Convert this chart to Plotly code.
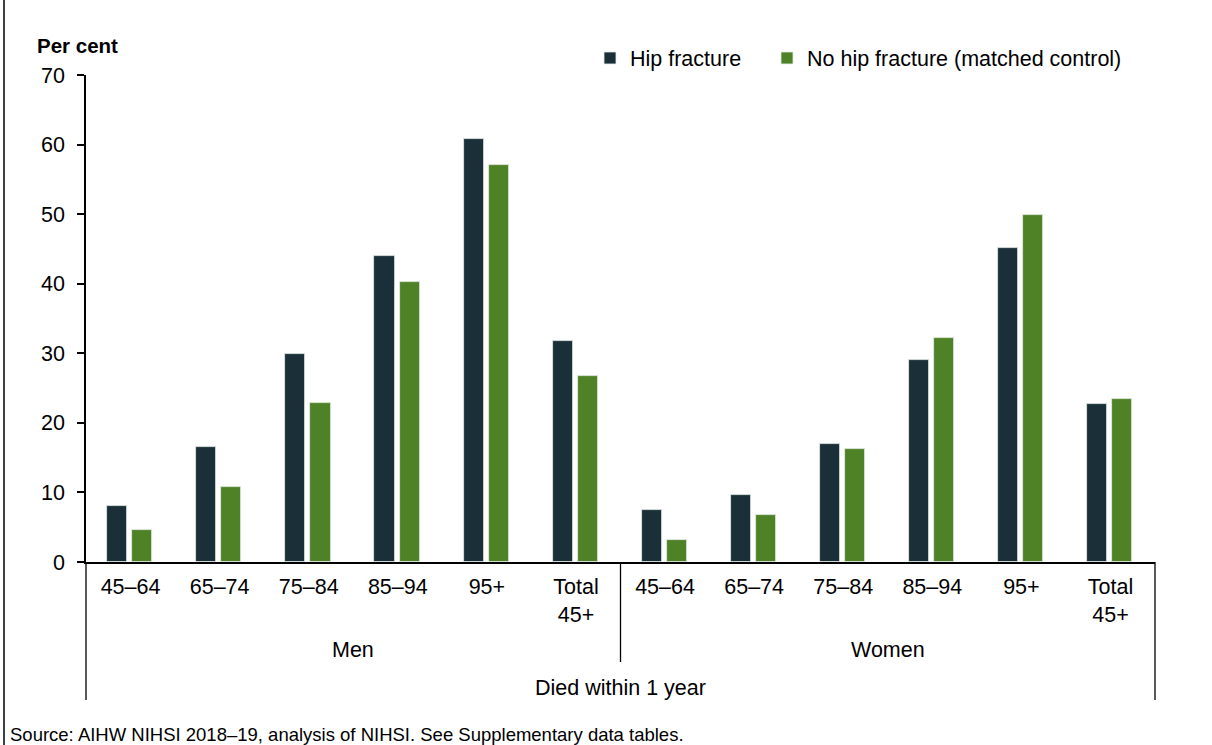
import plotly.graph_objects as go

categories = ["45–64", "65–74", "75–84", "85–94", "95+", "Total<br>45+",
              "45–64", "65–74", "75–84", "85–94", "95+", "Total<br>45+"]
groups = ["Men", "Women"]
hip_fracture = [8.1, 16.6, 29.9, 44.0, 60.8, 31.8,
                7.5, 9.6, 16.9, 29.1, 45.1, 22.7]
no_hip_fracture = [4.6, 10.8, 22.9, 40.2, 57.1, 26.7,
                   3.1, 6.7, 16.2, 32.2, 49.9, 23.5]
y_ticks = [0, 10, 20, 30, 40, 50, 60, 70]

DARK = "#1b2f38"
GREEN = "#4f8227"
FONT = "Liberation Sans, Arial, sans-serif"
FS = 21.5

x_pos = list(range(len(categories)))

fig = go.Figure()
fig.add_trace(go.Bar(
    x=x_pos, y=hip_fracture, name="Hip fracture",
    marker=dict(color=DARK, line=dict(color="#e6ebe8", width=0.8)),
    width=0.225, offset=-0.262, legend="legend",
))
fig.add_trace(go.Bar(
    x=x_pos, y=no_hip_fracture, name="No hip fracture (matched control)",
    marker=dict(color=GREEN, line=dict(color="#e6ebe8", width=0.8)),
    width=0.225, offset=0.02, legend="legend2",
))

W, H = 1212, 745
L, R, T, B = 86, 1155, 75, 562
ph = B - T


def py(pix):
    return (B - pix) / ph


def px(pix):
    return (pix - L) / (R - L)


shapes = []
line = dict(color="black", width=1.3)
for xp, yb in [(0, 700), (0.5, 662), (1, 700)]:
    shapes.append(dict(type="line", xref="paper", yref="paper",
                       x0=xp, x1=xp, y0=0, y1=py(yb), line=line))
# outer frame left edge
shapes.append(dict(type="line", xref="paper", yref="paper",
                   x0=px(4), x1=px(4), y0=py(745), y1=py(0),
                   line=dict(color="black", width=1.5)))

annotations = [
    dict(text=groups[0], x=0.25, y=py(650), xref="paper", yref="paper",
         xanchor="center", yanchor="middle", showarrow=False, font=dict(size=FS)),
    dict(text=groups[1], x=0.75, y=py(650), xref="paper", yref="paper",
         xanchor="center", yanchor="middle", showarrow=False, font=dict(size=FS)),
    dict(text="Died within 1 year", x=0.5, y=py(688), xref="paper", yref="paper",
         xanchor="center", yanchor="middle", showarrow=False, font=dict(size=FS)),
    dict(text="<b>Per cent</b>", x=px(35), y=py(45), xref="paper", yref="paper",
         xanchor="left", yanchor="middle", showarrow=False, font=dict(size=20.5)),
    dict(text="Source: AIHW NIHSI 2018–19, analysis of NIHSI. See Supplementary data tables.",
         x=px(8), y=py(747), xref="paper", yref="paper",
         xanchor="left", yanchor="bottom", showarrow=False, font=dict(size=18.5)),
]

leg_common = dict(orientation="h", xanchor="left", yanchor="middle",
                  font=dict(size=FS), itemwidth=30, bgcolor="rgba(0,0,0,0)")

fig.update_layout(
    width=W, height=H,
    margin=dict(l=L, r=W - R, t=T, b=H - B, pad=0),
    paper_bgcolor="white", plot_bgcolor="white",
    font=dict(family=FONT, size=FS, color="black"),
    showlegend=True,
    legend=dict(x=px(590), y=py(58), **leg_common),
    legend2=dict(x=px(767), y=py(58), **leg_common),
    xaxis=dict(range=[-0.5, 11.5], tickvals=x_pos, ticktext=categories,
               showline=True, linecolor="black", linewidth=2, ticks="",
               showgrid=False, zeroline=False, tickfont=dict(size=FS),
               ticklabelstandoff=4),
    yaxis=dict(range=[0, 70], tickvals=y_ticks, showline=True, linecolor="black",
               linewidth=1.5, ticks="outside", ticklen=7, tickwidth=1.5,
               tickcolor="black", showgrid=False, zeroline=False,
               tickfont=dict(size=FS), ticklabelstandoff=8),
    shapes=shapes, annotations=annotations, bargap=0,
)

fig.write_html("out.html", post_script="document.body.style.margin='0';",
               config={"displayModeBar": False})
